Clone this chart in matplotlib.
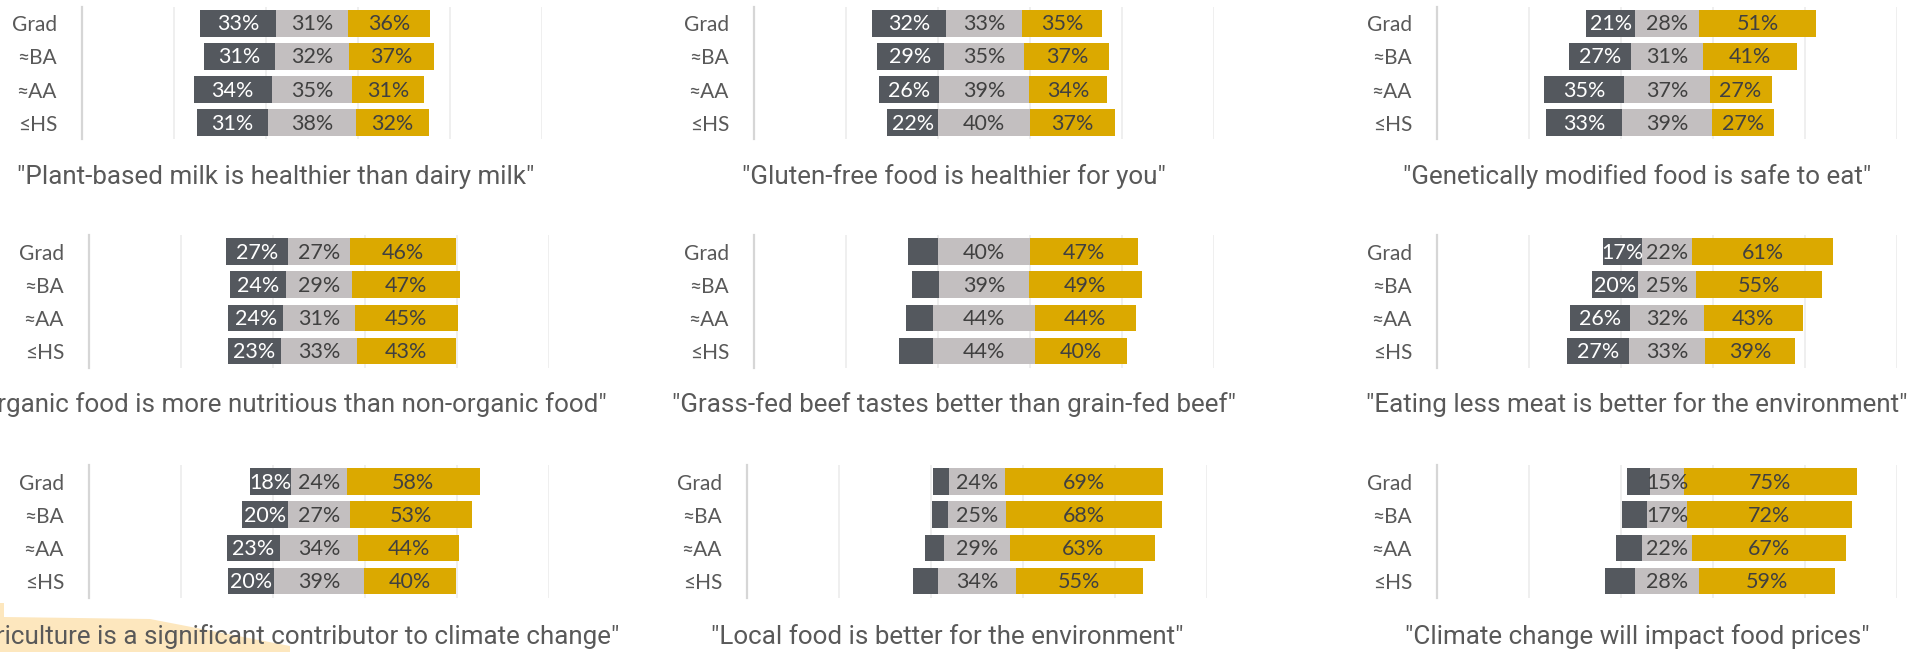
import matplotlib.pyplot as plt
from matplotlib.patches import Polygon

groups = ["Grad", "≈BA", "≈AA", "≤HS"]

titles = [
    '"Plant-based milk is healthier than dairy milk"',
    '"Gluten-free food is healthier for you"',
    '"Genetically modified food is safe to eat"',
    '"Organic food is more nutritious than non-organic food"',
    '"Grass-fed beef tastes better than grain-fed beef"',
    '"Eating less meat is better for the environment"',
    '"Agriculture is a significant contributor to climate change"',
    '"Local food is better for the environment"',
    '"Climate change will impact food prices"',
]

# disagree / neutral / agree, one list per panel (Grad, BA, AA, HS)
disagree = [
    [33, 31, 34, 31],
    [32, 29, 26, 22],
    [21, 27, 35, 33],
    [27, 24, 24, 23],
    [13, 12, 12, 15],
    [17, 20, 26, 27],
    [18, 20, 23, 20],
    [7, 7, 8, 11],
    [10, 11, 11, 13],
]
neutral = [
    [31, 32, 35, 38],
    [33, 35, 39, 40],
    [28, 31, 37, 39],
    [27, 29, 31, 33],
    [40, 39, 44, 44],
    [22, 25, 32, 33],
    [24, 27, 34, 39],
    [24, 25, 29, 34],
    [15, 17, 22, 28],
]
agree = [
    [36, 37, 31, 32],
    [35, 37, 34, 37],
    [51, 41, 27, 27],
    [46, 47, 45, 43],
    [47, 49, 44, 40],
    [61, 55, 43, 39],
    [58, 53, 44, 40],
    [69, 68, 63, 55],
    [75, 72, 67, 59],
]

c_dis = "#54585e"
c_neu = "#c3bfc0"
c_agr = "#dba900"
txt_gray = "#595959"

W, H = 1915, 652
fig = plt.figure(figsize=(W / 100, H / 100), dpi=100)

# pixel boxes of each plot area: left, top
lefts = [[82, 754, 1437], [89, 754, 1437], [89, 747, 1437]]
tops = [6.7, 235, 465]
title_y = [177, 405, 637]
title_dx = [-36, -30, -30, -30, -30, -30, -31, -30, -30]
aw, ah = 460, 132.5

# faint highlighter mark in the lower left corner
pts = [(0, 603), (4, 603), (4, 617), (150, 619), (290, 646), (290, 652), (0, 652)]
hl = Polygon([(x / 100, (H - y) / 100) for x, y in pts], closed=True,
             facecolor="#fde3b3", edgecolor="none", alpha=0.85, zorder=0)
hl.set_transform(fig.dpi_scale_trans)
fig.patches.append(hl)

for p in range(9):
    r, c = divmod(p, 3)
    x0 = lefts[r][c]
    y0 = tops[r]
    ax = fig.add_axes([x0 / W, 1 - (y0 + ah) / H, aw / W, ah / H])
    ax.set_facecolor("none")

    d = disagree[p]
    n = neutral[p]
    a = agree[p]
    ys = list(range(len(groups)))
    starts = [-(d[i] + n[i] / 2) for i in ys]

    segs = [(d, c_dis, "white"), (n, c_neu, "#404040"), (a, c_agr, "#404040")]
    left = starts[:]
    for k, (vals, col, tcol) in enumerate(segs):
        ax.barh(ys, vals, left=left, height=0.8, color=col, zorder=3)
        for i in ys:
            v = vals[i]
            if k > 0 or v >= 17:
                ax.text(left[i] + v / 2, i + 0.03, f"{v}%", ha="center", va="center",
                        color=tcol, fontsize=15.5, family=["Lato", "DejaVu Sans"], zorder=4)
        left = [left[i] + vals[i] for i in ys]

    ax.set_xlim(-100, 100)
    ax.set_ylim(3.5, -0.5)
    ax.set_xticks([-60, -20, 20, 60, 100])
    ax.xaxis.grid(True, color="#ececec", linewidth=1.2, zorder=0)
    ax.tick_params(axis="x", length=0, labelbottom=False)
    ax.tick_params(axis="y", length=0, pad=18, labelsize=15, labelcolor=txt_gray)
    ax.set_yticks(ys)
    ax.set_yticklabels(groups, family=["Lato", "DejaVu Sans"])
    for s in ["top", "right", "bottom"]:
        ax.spines[s].set_visible(False)
    ax.spines["left"].set_color("#d6d6d6")
    ax.spines["left"].set_linewidth(1.6)

    tx = x0 + aw / 2 + title_dx[p]
    fig.text(tx / W, 1 - title_y[r] / H, titles[p], ha="center", va="center",
             fontsize=18.7, color=txt_gray, family="Roboto")

fig.savefig("out.png", dpi=100)
